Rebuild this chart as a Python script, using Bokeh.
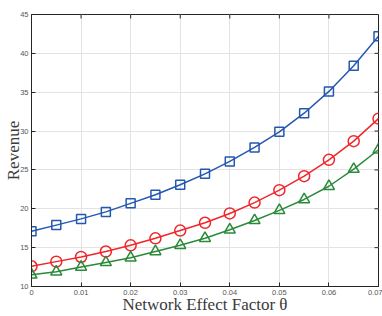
from bokeh.plotting import figure
from bokeh.models import FixedTicker, Range1d
from bokeh.embed import file_html
from bokeh.resources import INLINE

theta = [0, 0.005, 0.01, 0.015, 0.02, 0.025, 0.03, 0.035, 0.04, 0.045, 0.05, 0.055, 0.06, 0.065, 0.07]
rev_blue = [17.1, 17.9, 18.7, 19.6, 20.7, 21.8, 23.1, 24.5, 26.1, 27.9, 29.9, 32.3, 35.1, 38.4, 42.2]
rev_red = [12.6, 13.2, 13.8, 14.5, 15.3, 16.2, 17.2, 18.2, 19.4, 20.8, 22.4, 24.2, 26.3, 28.7, 31.6]
rev_green = [11.5, 11.9, 12.5, 13.1, 13.7, 14.5, 15.3, 16.2, 17.3, 18.5, 19.8, 21.2, 22.9, 25.1, 27.6]

x_ticks = [0, 0.01, 0.02, 0.03, 0.04, 0.05, 0.06, 0.07]
x_tick_labels = ["0", "0.01", "0.02", "0.03", "0.04", "0.05", "0.06", "0.07"]
y_ticks = [10, 15, 20, 25, 30, 35, 40, 45]

X0, X1, Y0, Y1 = 0, 0.07, 10, 45

BLUE = "#2457b0"
RED = "#f0262a"
GREEN = "#2a8a3a"
AX = "#262626"
TICK_TXT = "#555555"
LAB = "#3a3a3a"

W, H = 382, 316
BL, BR, BT, BB = 31, 4, 14, 29

p = figure(width=W, height=H, output_backend="svg", toolbar_location=None,
           x_range=Range1d(X0, X1), y_range=Range1d(Y0, Y1),
           min_border_left=BL, min_border_right=BR, min_border_top=BT, min_border_bottom=BB)

p.outline_line_color = AX
p.outline_line_width = 1
p.outline_line_alpha = 1

for ax in (p.xaxis, p.yaxis):
    ax.axis_line_color = AX
    ax.major_tick_in = 4
    ax.major_tick_out = 0
    ax.minor_tick_line_color = None
    ax.major_tick_line_color = AX
    ax.major_label_text_font = "Liberation Sans"
    ax.major_label_text_font_size = "7.5px"
    ax.major_label_text_color = TICK_TXT
    ax.axis_label_text_font = "Liberation Serif"
    ax.axis_label_text_font_style = "normal"
    ax.axis_label_text_font_size = "17px"
    ax.axis_label_text_color = LAB

p.xaxis.ticker = FixedTicker(ticks=x_ticks)
p.xaxis.major_label_overrides = {t: l for t, l in zip(x_ticks, x_tick_labels)}
p.yaxis.ticker = FixedTicker(ticks=y_ticks)
p.xaxis.major_label_standoff = 3
p.yaxis.major_label_standoff = 3
p.xaxis.axis_label = "Network Effect Factor θ"
p.yaxis.axis_label = "Revenue"
p.xaxis.axis_label_standoff = -3
p.yaxis.axis_label_standoff = -6

p.xgrid.ticker = FixedTicker(ticks=x_ticks)
p.ygrid.ticker = FixedTicker(ticks=y_ticks)
p.grid.grid_line_color = "#e3e3e3"
p.grid.grid_line_width = 1

# inward ticks on the top and right edges of the box (4 px long)
fw = W - BL - BR
fh = H - BT - BB
dx = 4 * (X1 - X0) / fw
dy = 4 * (Y1 - Y0) / fh
p.segment(x0=x_ticks, y0=[Y1] * len(x_ticks), x1=x_ticks, y1=[Y1 - dy] * len(x_ticks),
          line_color=AX, line_width=1)
p.segment(x0=[X1] * len(y_ticks), y0=y_ticks, x1=[X1 - dx] * len(y_ticks), y1=y_ticks,
          line_color=AX, line_width=1)

p.line(theta, rev_blue, line_color=BLUE, line_width=1.5)
p.scatter(theta, rev_blue, marker="square", size=9, line_color=BLUE, line_width=1.5, fill_color=None)
p.line(theta, rev_red, line_color=RED, line_width=1.5)
p.scatter(theta, rev_red, marker="circle", size=11, line_color=RED, line_width=1.5, fill_color=None)
p.line(theta, rev_green, line_color=GREEN, line_width=1.5)
p.scatter(theta, rev_green, marker="triangle", size=11, line_color=GREEN, line_width=1.5, fill_color=None)

open("out.html", "w").write(file_html(p, INLINE))
